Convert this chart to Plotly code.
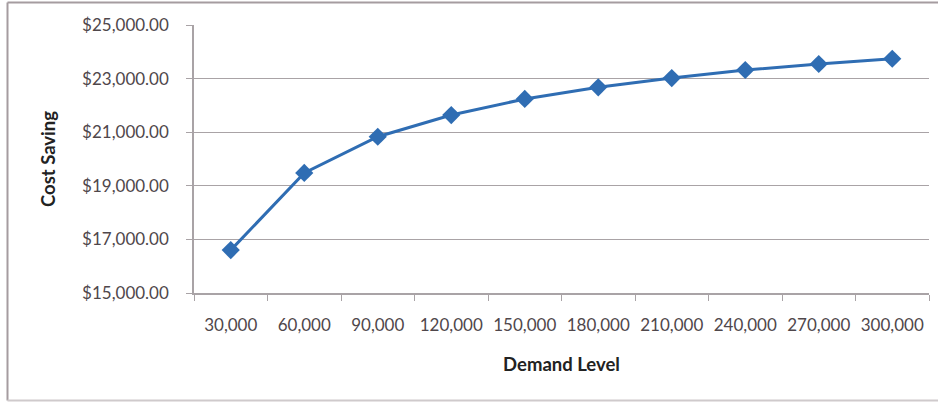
import plotly.graph_objects as go

# Demand levels and the corresponding cost savings
demand_levels = ["30,000", "60,000", "90,000", "120,000", "150,000",
                 "180,000", "210,000", "240,000", "270,000", "300,000"]
cost_saving = [16600, 19480, 20830, 21640, 22240,
               22675, 23020, 23320, 23545, 23740]

y_ticks = [15000, 17000, 19000, 21000, 23000, 25000]

W, H = 938, 402
L, R, T, B = 194, 9, 25, 109
pw, ph = W - L - R, H - T - B


def px_x(x):
    return (x - L) / pw


def px_y(y):
    return (H - B - y) / ph


fig = go.Figure()
fig.add_trace(go.Scatter(
    x=demand_levels,
    y=cost_saving,
    mode="lines+markers",
    line=dict(color="#2f6db3", width=3),
    marker=dict(symbol="diamond", size=14, color="#2f6db3"),
    showlegend=False,
))

tick_font = dict(family="Lato, 'Open Sans', sans-serif", size=17, color="#4f474b")
title_font = dict(family="Lato, 'Open Sans', sans-serif", size=18.5, color="#222222")

fig.update_xaxes(
    type="category",
    range=[-0.5, 9.5],
    automargin=False,
    tickangle=0,
    showline=True, linecolor="#a9a3a6", linewidth=1.5,
    ticks="outside", tickson="boundaries", ticklen=6, tickcolor="#a9a3a6",
    ticklabelstandoff=16,
    showgrid=False,
    tickfont=tick_font,
    title=dict(text="<b>Demand Level</b>", font=title_font, standoff=24),
)
fig.update_yaxes(
    range=[15000, 25000],
    automargin=False,
    tickvals=y_ticks,
    tickformat="$,.2f",
    showline=True, linecolor="#a9a3a6", linewidth=1.5,
    ticks="outside", ticklen=6, tickcolor="#a9a3a6",
    ticklabelstandoff=14,
    showgrid=True, gridcolor="#a9a3a6", gridwidth=1.3,
    zeroline=False,
    tickfont=tick_font,
    title=dict(text="<b>Cost Saving</b>", font=title_font, standoff=22),
)

# Chart frame: left, top and bottom edges
frame = dict(type="line", xref="paper", yref="paper",
             line=dict(color="#a59ca0", width=2))
fig.add_shape(**frame, x0=px_x(7.5), x1=px_x(7.5), y0=px_y(2.5), y1=px_y(400.5))
fig.add_shape(**frame, x0=px_x(7.5), x1=px_x(938), y0=px_y(2.5), y1=px_y(2.5))
fig.add_shape(**dict(frame, line=dict(color="#cfcacc", width=2)),
              x0=px_x(7.5), x1=px_x(938), y0=px_y(400.5), y1=px_y(400.5))

fig.update_layout(
    width=W, height=H,
    margin=dict(l=L, r=R, t=T, b=B),
    paper_bgcolor="white",
    plot_bgcolor="white",
)

fig.write_html("out.html")
